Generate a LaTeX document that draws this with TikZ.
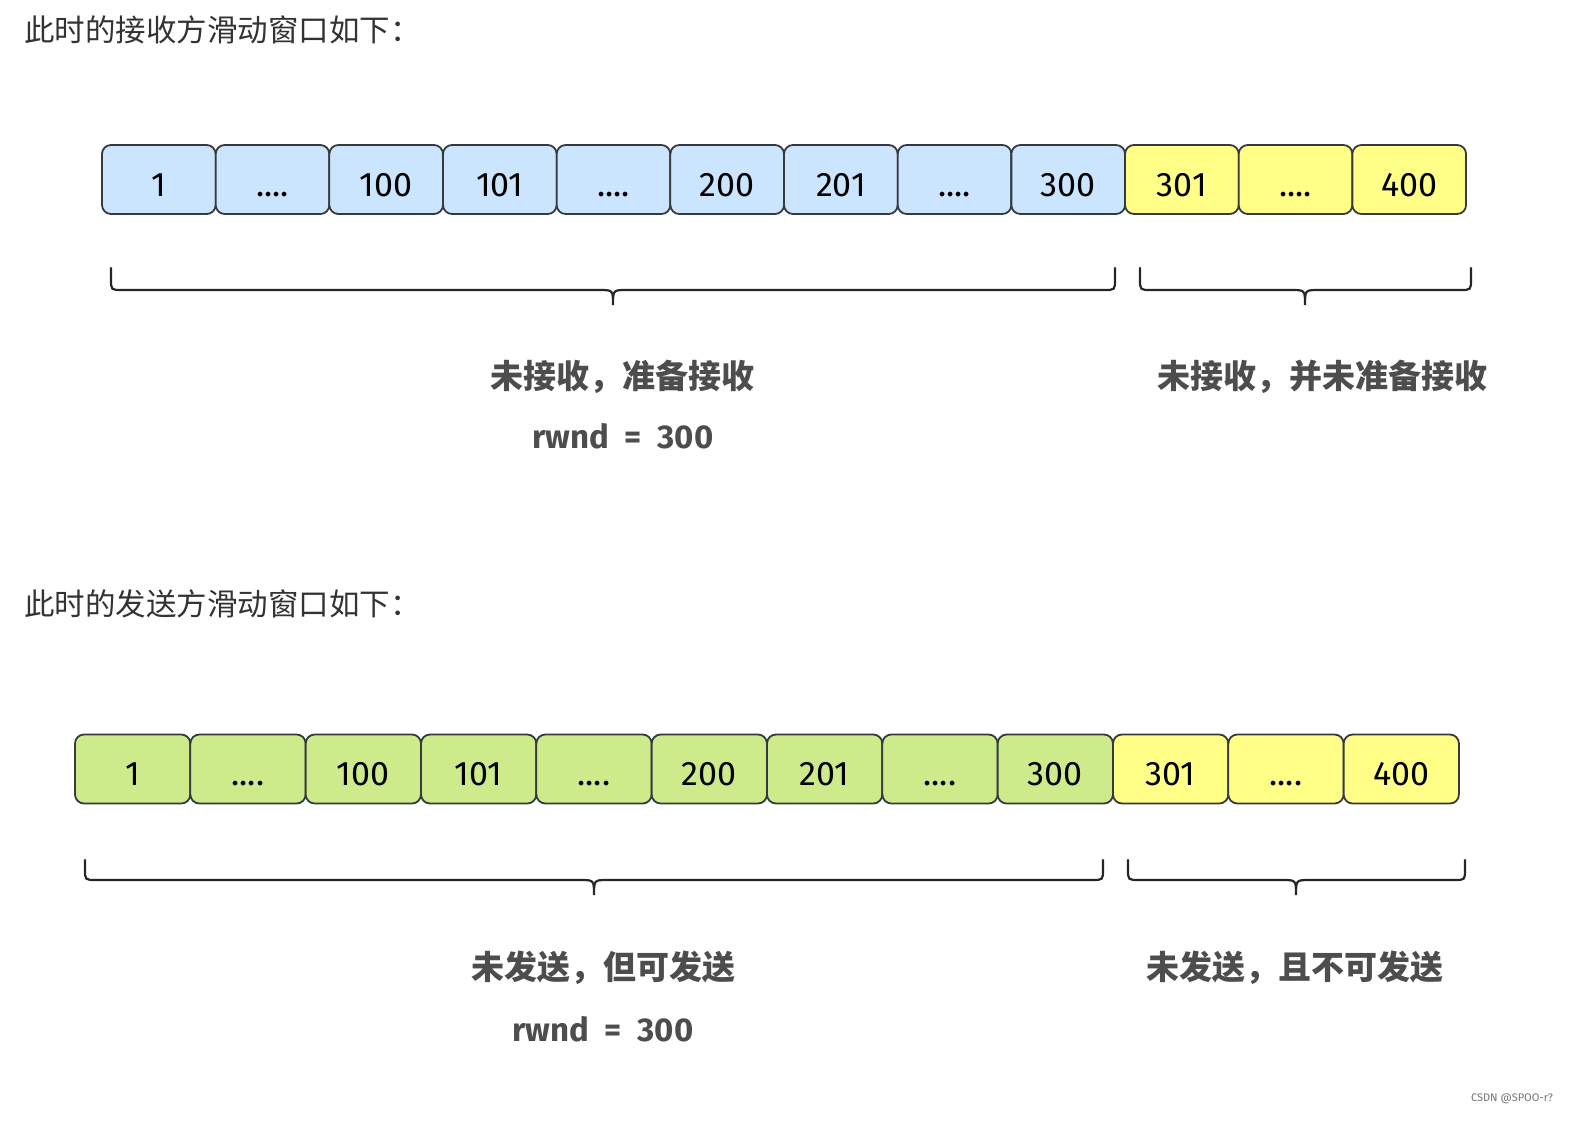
\documentclass[tikz,border=0pt]{standalone}
\usepackage{fontspec}
\setmainfont{Fira Sans}
\newfontfamily\cjk{Noto Sans CJK SC}
\definecolor{cellblue}{HTML}{CCE5FF}
\definecolor{cellyellow}{HTML}{FFFF88}
\definecolor{cellgreen}{HTML}{CDEB8B}
\definecolor{cellline}{HTML}{36393D}
\definecolor{labelgray}{HTML}{4D4D4D}
\definecolor{headgray}{HTML}{333333}
\newcommand\fourdots{.{}.{}.{}.}
\tikzset{
  cell/.style={draw=cellline, line width=1.8pt, rounded corners=9pt, inner sep=0pt,
    minimum height=69pt, text height=33pt, text depth=0pt,
    font=\fontsize{34}{38}\selectfont, text=black},
  bracestyle/.style={draw=black!85, line width=2.2pt, line cap=round},
  headtext/.style={anchor=west, inner sep=0pt, text=headgray, font=\cjk\fontsize{30.5}{34}\selectfont},
  lbl/.style={inner sep=0pt, text=labelgray, font=\cjk\bfseries\fontsize{33}{38}\selectfont},
  rw/.style={inner sep=0pt, text=labelgray, font=\bfseries\fontsize{33}{38}\selectfont},
}
\newcommand\drawbrace[5]{% x1 x2 xc ytop ymid (tip = ymid+15)
  \draw[bracestyle] (#1,#4) -- (#1,#5-11) .. controls (#1,#5) .. (#1+11,#5) -- (#3-14,#5)
    .. controls (#3,#5) .. (#3,#5+15)
    .. controls (#3,#5) .. (#3+14,#5) -- (#2-11,#5) .. controls (#2,#5) .. (#2,#5-11) -- (#2,#4);
}
\begin{document}
\begin{tikzpicture}[x=1pt,y=-1pt]
\useasboundingbox (0,0) rectangle (1587,1127);
% headers
\node[headtext] (h1) at (24,30) {此时的接收方滑动窗口如下：};
\node[headtext] (h2) at (24,604) {此时的发送方滑动窗口如下：};
% top row
\foreach \i/\lab/\col in {1/1/cellblue,2/\fourdots/cellblue,3/100/cellblue,4/101/cellblue,5/\fourdots/cellblue,6/200/cellblue,7/201/cellblue,8/\fourdots/cellblue,9/300/cellblue,10/301/cellyellow,11/\fourdots/cellyellow,12/400/cellyellow}{
  \node[cell, fill=\col, minimum width=113.7pt] (t\i) at ({102+113.67*(\i-0.5)},179.5) {\lab};
}
% bottom row
\foreach \i/\lab/\col in {1/1/cellgreen,2/\fourdots/cellgreen,3/100/cellgreen,4/101/cellgreen,5/\fourdots/cellgreen,6/200/cellgreen,7/201/cellgreen,8/\fourdots/cellgreen,9/300/cellgreen,10/301/cellyellow,11/\fourdots/cellyellow,12/400/cellyellow}{
  \node[cell, fill=\col, minimum width=115.3pt] (b\i) at ({75+115.33*(\i-0.5)},769) {\lab};
}
% braces
\drawbrace{111}{1115}{613}{268}{290}
\drawbrace{1140}{1471}{1305}{268}{290}
\drawbrace{85}{1103}{594}{860}{880}
\drawbrace{1128}{1465}{1296}{860}{880}
% labels
\node[lbl] (l1) at (622,377) {未接收，准备接收};
\node[rw] (r1) at (623,436) {rwnd\ \ =\ \ 300};
\node[lbl] (l2) at (1322,377) {未接收，并未准备接收};
\node[lbl] (l3) at (603,968) {未发送，但可发送};
\node[rw] (r2) at (603,1029) {rwnd\ \ =\ \ 300};
\node[lbl] (l4) at (1295,968) {未发送，且不可发送};
% watermark
\node[inner sep=0pt, text=black!55, font=\fontsize{11}{13}\selectfont, anchor=east] (wm) at (1553,1099) {CSDN @SPOO-r?};
\end{tikzpicture}
\end{document}
